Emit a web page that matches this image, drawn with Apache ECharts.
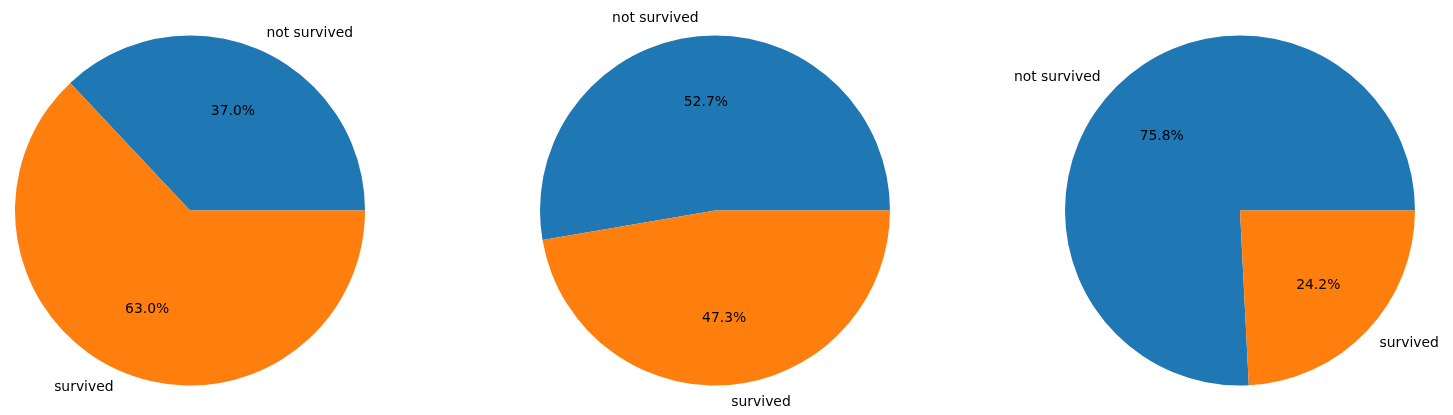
<!DOCTYPE html>
<html>
<head>
<meta charset="utf-8">
<script src="https://cdn.jsdelivr.net/npm/echarts@6/dist/echarts.min.js"></script>
<style>
html,body{margin:0;padding:0;background:#fff;}
#chart{width:1453px;height:415px;}
</style>
</head>
<body>
<div id="chart"></div>
<script>
const categories = ['not survived', 'survived'];
const pie1 = [37.0, 63.0];
const pie2 = [52.7, 47.3];
const pie3 = [75.8, 24.2];
const colors = ['#1f77b4', '#ff7f0e'];

const R = 175;
const CY = 210.5;
const centersX = [190, 715, 1240];
const pies = [pie1, pie2, pie3];
const font = {fontFamily: 'DejaVu Sans', fontSize: 13.9, color: '#000'};

function mk(vals) {
  return categories.map((c, i) => ({name: c, value: vals[i]}));
}

const series = [];
pies.forEach((vals, k) => {
  const center = [centersX[k], CY];
  series.push({
    type: 'pie',
    center: center,
    radius: [0, R],
    startAngle: 0,
    clockwise: false,
    avoidLabelOverlap: false,
    animation: false,
    data: mk(vals),
    itemStyle: {color: p => colors[p.dataIndex]},
    label: Object.assign({show: true, position: 'outside', formatter: '{b}', distanceToLabelLine: 0}, font),
    labelLine: {show: false, length: R * 0.1, length2: 0},
    emphasis: {disabled: true}
  });
  series.push({
    type: 'pie',
    center: center,
    radius: [0, R * 1.2],
    startAngle: 0,
    clockwise: false,
    silent: true,
    animation: false,
    avoidLabelOverlap: false,
    data: mk(vals),
    itemStyle: {color: 'rgba(0,0,0,0)'},
    label: Object.assign({show: true, position: 'inside', formatter: p => p.value.toFixed(1) + '%'}, font),
    labelLine: {show: false},
    emphasis: {disabled: true}
  });
});

const chart = echarts.init(document.getElementById('chart'), null, {renderer: 'canvas'});
chart.setOption({backgroundColor: '#fff', series: series});
</script>
</body>
</html>
